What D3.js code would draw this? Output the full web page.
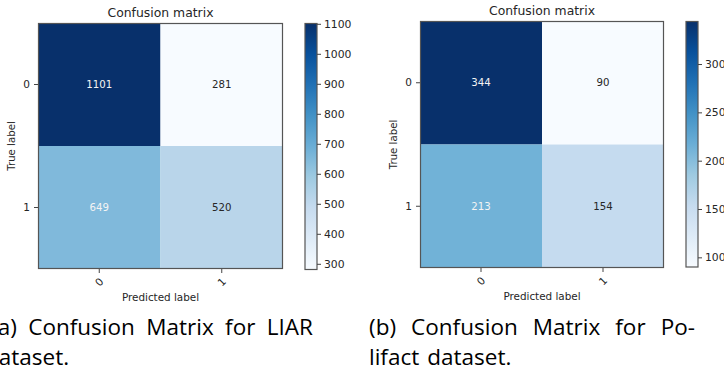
<!DOCTYPE html>
<html>
<head>
<meta charset="utf-8">
<script src="https://cdn.jsdelivr.net/npm/d3@7"></script>
<style>
body { margin: 0; background: #fff; }
svg { display: block; }
.mtext { font-family: "DejaVu Sans", sans-serif; fill: #262626; }
.caption { font-family: "Open Sans", sans-serif; font-size: 22.5px; fill: #000; }
</style>
</head>
<body>
<script>
// classes on both axes
var classes = ["0", "1"];

// confusion matrices, rows = true label, cols = predicted label
var liarValues = [[1101, 281], [649, 520]];
var polifactValues = [[344, 90], [213, 154]];

// colorbar ticks
var liarTicks = [300, 400, 500, 600, 700, 800, 900, 1000, 1100];
var polifactTicks = [100, 150, 200, 250, 300];

var liarCaption = ["(a) Confusion Matrix for LIAR", "dataset."];
var polifactCaption = ["(b) Confusion Matrix for Po-", "lifact dataset."];

// matplotlib "Blues"
var blues = ["#f7fbff", "#deebf7", "#c6dbef", "#9ecae1", "#6baed6",
             "#4292c6", "#2171b5", "#08519c", "#08306b"];

var width = 724, height = 380;

var svg = d3.select("body").append("svg")
    .attr("width", width)
    .attr("height", height);

var defs = svg.append("defs");

function drawPanel(values, ticks, caption, id, box) {
    var flat = d3.merge(values);
    var vmin = d3.min(flat), vmax = d3.max(flat);

    var cmap = d3.scaleLinear()
        .domain(d3.range(blues.length).map(function(i) { return vmin + (vmax - vmin) * i / (blues.length - 1); }))
        .range(blues)
        .interpolate(d3.interpolateRgb);

    var x = d3.scaleBand().domain(classes).range([box.x0, box.x1]);
    var y = d3.scaleBand().domain(classes).range([box.y0, box.y1]);

    var g = svg.append("g");

    var cells = [];
    values.forEach(function(row, i) {
        row.forEach(function(v, j) { cells.push({ r: classes[i], c: classes[j], v: v }); });
    });

    g.selectAll("rect.cell")
        .data(cells)
        .enter().append("rect")
        .attr("class", "cell")
        .attr("x", function(d) { return x(d.c); })
        .attr("y", function(d) { return y(d.r); })
        .attr("width", x.bandwidth())
        .attr("height", y.bandwidth())
        .attr("fill", function(d) { return cmap(d.v); });

    var thresh = vmax / 2;
    g.selectAll("text.val")
        .data(cells)
        .enter().append("text")
        .attr("class", "mtext")
        .attr("x", function(d) { return x(d.c) + x.bandwidth() / 2; })
        .attr("y", function(d) { return y(d.r) + y.bandwidth() / 2; })
        .attr("dy", "0.35em")
        .attr("text-anchor", "middle")
        .style("font-size", "10.2px")
        .style("fill", function(d) { return d.v > thresh ? "#f4f4f4" : "#262626"; })
        .text(function(d) { return d.v; });

    // frame
    g.append("rect")
        .attr("x", box.x0 + 0.5).attr("y", box.y0 + 0.5)
        .attr("width", box.x1 - box.x0 - 1).attr("height", box.y1 - box.y0 - 1)
        .attr("fill", "none").attr("stroke", "#555").attr("stroke-width", 1.2);

    // y axis
    var ya = g.append("g")
        .attr("transform", "translate(" + box.x0 + ",0)")
        .call(d3.axisLeft(y).tickSize(4).tickPadding(4));
    ya.select(".domain").remove();
    ya.selectAll("line").attr("stroke", "#444");
    ya.selectAll("text").attr("class", "mtext").style("font-size", "10.5px").attr("font-family", null);

    // x axis, labels rotated 45
    var xa = g.append("g")
        .attr("transform", "translate(0," + box.y1 + ")")
        .call(d3.axisBottom(x).tickSize(4).tickPadding(4));
    xa.select(".domain").remove();
    xa.selectAll("line").attr("stroke", "#444");
    xa.selectAll("text")
        .attr("class", "mtext")
        .attr("font-family", null)
        .style("font-size", "10.5px")
        .attr("y", 0).attr("dy", "0.35em")
        .attr("transform", "translate(0,13) rotate(-45)");

    var cx = (box.x0 + box.x1) / 2;
    g.append("text")
        .attr("class", "mtext")
        .attr("x", cx).attr("y", box.y0 - 6)
        .attr("text-anchor", "middle")
        .style("font-size", "12.4px")
        .text("Confusion matrix");

    g.append("text")
        .attr("class", "mtext")
        .attr("x", cx).attr("y", box.y1 + 32)
        .attr("text-anchor", "middle")
        .style("font-size", "10.4px")
        .text("Predicted label");

    g.append("text")
        .attr("class", "mtext")
        .attr("transform", "translate(" + (box.x0 - 23) + "," + ((box.y0 + box.y1) / 2) + ") rotate(-90)")
        .attr("text-anchor", "middle")
        .style("font-size", "10.2px")
        .text("True label");

    // colorbar
    var grad = defs.append("linearGradient")
        .attr("id", id)
        .attr("x1", 0).attr("y1", 1).attr("x2", 0).attr("y2", 0);
    grad.selectAll("stop")
        .data(blues)
        .enter().append("stop")
        .attr("offset", function(d, i) { return i / (blues.length - 1); })
        .attr("stop-color", function(d) { return d; });

    var cy = d3.scaleLinear().domain([vmin, vmax]).range([box.cb1, box.cb0]);
    g.append("rect")
        .attr("x", box.cbx).attr("y", cy(vmax))
        .attr("width", box.cbw).attr("height", cy(vmin) - cy(vmax))
        .attr("fill", "url(#" + id + ")")
        .attr("stroke", "#555").attr("stroke-width", 1.2);

    var ca = g.append("g")
        .attr("transform", "translate(" + (box.cbx + box.cbw) + ",0)")
        .call(d3.axisRight(cy).tickValues(ticks).tickFormat(d3.format("d")).tickSize(4).tickPadding(3));
    ca.select(".domain").remove();
    ca.selectAll("line").attr("stroke", "#444");
    ca.selectAll("text").attr("class", "mtext").attr("font-family", null).style("font-size", "10.8px");

    // justified caption (first line stretched, second left aligned)
    caption.forEach(function(line, li) {
        var words = line.split(" ");
        var yy = box.capY + li * 30;
        var nodes = words.map(function(w) {
            return svg.append("text")
                .attr("class", "caption")
                .attr("y", yy)
                .text(w);
        });
        var widths = nodes.map(function(n) { return n.node().getComputedTextLength(); });
        var gap = 8;
        if (li === 0) {
            gap = (box.capX1 - box.capX0 - d3.sum(widths)) / (words.length - 1);
        }
        var pos = li === 0 ? box.capX0 : box.capX2;
        nodes.forEach(function(n, k) {
            n.attr("x", pos);
            pos += widths[k] + gap;
        });
    });
}

drawPanel(liarValues, liarTicks, liarCaption, "gradLiar",
    { x0: 38, x1: 283, y0: 23, y1: 269, cbx: 305, cbw: 12, cb0: 23.5, cb1: 269.5,
      capX0: -9, capX1: 313, capX2: -15, capY: 335 });

drawPanel(polifactValues, polifactTicks, polifactCaption, "gradPoli",
    { x0: 420, x1: 664, y0: 21, y1: 268, cbx: 686, cbw: 12, cb0: 21.5, cb1: 267,
      capX0: 369, capX1: 695, capX2: 369, capY: 335 });
</script>
</body>
</html>
